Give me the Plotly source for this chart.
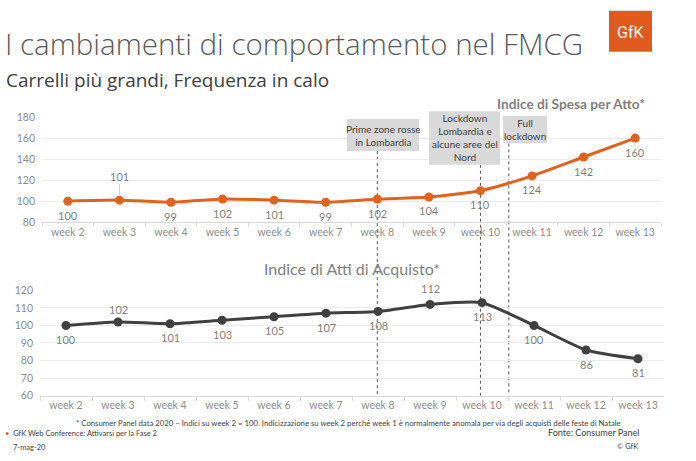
import plotly.graph_objects as go

W, H = 696, 461

weeks = ["week 2", "week 3", "week 4", "week 5", "week 6", "week 7",
         "week 8", "week 9", "week 10", "week 11", "week 12", "week 13"]
spesa = [100, 101, 99, 102, 101, 99, 102, 104, 110, 124, 142, 160]
atti = [100, 102, 101, 103, 105, 107, 108, 112, 113, 100, 86, 81]
spesa_label_side = ["below", "leader", "below", "below", "below", "below",
                    "below", "below", "below", "below", "below", "below"]
atti_label_side = ["below", "above", "below", "below", "below", "below",
                   "below", "leader", "below", "below", "below", "below"]
top_ticks = [80, 100, 120, 140, 160, 180]
bottom_ticks = [60, 70, 80, 90, 100, 110, 120]

title_text = "I cambiamenti di comportamento nel FMCG"
subtitle_text = "Carrelli più grandi, Frequenza in calo"
top_series_name = "Indice di Spesa per Atto*"
bottom_series_name = "Indice di Atti di Acquisto*"
events = [
    ("Prime zone rosse<br>in Lombardia", 6.0),
    ("Lockdown<br>Lombardia e<br>alcune aree del<br>Nord", 8.0),
    ("Full<br>lockdown", 8.55),
]
footnote = ("* Consumer Panel data 2020 – Indici su week 2 = 100. Indicizzazione su week 2 "
            "perché week 1 è normalmente anomala per via degli acquisti delle feste di Natale")

ORANGE = "#e0621f"
DARK = "#404040"
GRAY = "#7f7f7f"
TICK = "#8c8c8c"
GRID = "#ebebeb"


def px(x):
    return x / W


def py(y):
    return 1 - y / H


fig = go.Figure()
fig.add_trace(go.Scatter(x=weeks, y=spesa, mode="lines+markers",
                         line=dict(color=ORANGE, width=3, shape="spline", smoothing=0.6),
                         marker=dict(color=ORANGE, size=9),
                         xaxis="x", yaxis="y", showlegend=False, hoverinfo="skip"))
fig.add_trace(go.Scatter(x=weeks, y=atti, mode="lines+markers",
                         line=dict(color=DARK, width=3, shape="spline", smoothing=0.6),
                         marker=dict(color=DARK, size=9),
                         xaxis="x2", yaxis="y2", showlegend=False, hoverinfo="skip"))

annotations = []
lab_font = dict(family="Lato", size=11, color=GRAY)
for xs, ys, sides, xr, yr, lead in [(weeks, spesa, spesa_label_side, "x", "y", -24),
                                    (weeks, atti, atti_label_side, "x2", "y2", -16)]:
    for xv, yv, s in zip(xs, ys, sides):
        if s == "leader":
            annotations.append(dict(x=xv, y=yv, xref=xr, yref=yr, text=str(yv),
                                    showarrow=True, arrowhead=0, arrowwidth=0.8,
                                    arrowcolor="#bfbfbf", ax=0, ay=lead, standoff=5,
                                    font=lab_font))
        elif s == "above":
            annotations.append(dict(x=xv, y=yv, xref=xr, yref=yr, text=str(yv),
                                    showarrow=False, yshift=12, font=lab_font))
        else:
            annotations.append(dict(x=xv, y=yv, xref=xr, yref=yr, text=str(yv),
                                    showarrow=False, yshift=-14, font=lab_font))

shapes = []
boxes = [(347, 116, 419, 149), (429, 108, 500, 163), (503, 113, 547, 141)]
for (label, pos), (x0, y0, x1, y1) in zip(events, boxes):
    shapes.append(dict(type="rect", xref="paper", yref="paper",
                       x0=px(x0), x1=px(x1), y0=py(y1), y1=py(y0),
                       fillcolor="#d9d9d9", line=dict(width=0), layer="above"))
    annotations.append(dict(x=px((x0 + x1) / 2), y=py((y0 + y1) / 2), xref="paper", yref="paper",
                            text=label, showarrow=False, xanchor="center", yanchor="middle",
                            font=dict(family="Lato", size=10, color=DARK)))
    shapes.append(dict(type="line", xref="x", yref="paper", x0=pos, x1=pos,
                       y0=py(y1), y1=py(400), line=dict(color="#555555", width=1, dash="dot"),
                       layer="below"))

# logo
shapes.append(dict(type="rect", xref="paper", yref="paper", x0=px(609), x1=px(652),
                   y0=py(47), y1=py(5), fillcolor="#e05a1e", line=dict(width=0)))
annotations.append(dict(x=px(630), y=py(27), xref="paper", yref="paper", text="GfK",
                        showarrow=False, xanchor="center", yanchor="middle",
                        font=dict(family="Roboto", size=16, color="white")))

small = dict(family="Lato", size=7.5, color=DARK)
annotations += [
    dict(x=px(3), y=py(39), xref="paper", yref="paper", text=title_text, showarrow=False,
         xanchor="left", yanchor="middle",
         font=dict(family="Open Sans", size=29.5, color="#595959", weight=300)),
    dict(x=px(4), y=py(76), xref="paper", yref="paper", text=subtitle_text, showarrow=False,
         xanchor="left", yanchor="middle", font=dict(family="Open Sans", size=19, color=DARK)),
    dict(x=px(647), y=py(100), xref="paper", yref="paper", text="<b>" + top_series_name + "</b>",
         showarrow=False, xanchor="right", yanchor="middle",
         font=dict(family="Lato", size=13.7, color=GRAY)),
    dict(x=px(352), y=py(270), xref="paper", yref="paper", text=bottom_series_name,
         showarrow=False, xanchor="center", yanchor="middle",
         font=dict(family="Lato", size=16, color=GRAY)),
    dict(x=px(349), y=py(428), xref="paper", yref="paper", text=footnote, showarrow=False,
         xanchor="center", yanchor="middle", font=dict(family="Lato", size=7.75, color=DARK)),
    dict(x=px(3), y=py(439), xref="paper", yref="paper",
         text="<span style='color:#e05a1e'>•</span>  GfK Web Conference: Attivarsi per la Fase 2",
         showarrow=False, xanchor="left", yanchor="middle", font=small),
    dict(x=px(11), y=py(453), xref="paper", yref="paper", text="7-mag-20", showarrow=False,
         xanchor="left", yanchor="middle", font=small),
    dict(x=px(641), y=py(438), xref="paper", yref="paper", text="Fonte: Consumer Panel",
         showarrow=False, xanchor="right", yanchor="middle",
         font=dict(family="Lato", size=9, color=DARK)),
    dict(x=px(640), y=py(452), xref="paper", yref="paper", text="© GfK",
         showarrow=False, xanchor="right", yanchor="middle", font=small),
]

xcommon = dict(type="category", showgrid=False, showline=True, linecolor="#d9d9d9",
               ticks="outside", tickson="boundaries", ticklen=4, tickcolor="#d9d9d9",
               tickfont=dict(family="Lato", size=10.5, color=TICK), fixedrange=True,
               range=[-0.5, 11.5])
ycommon = dict(showgrid=True, gridcolor=GRID, zeroline=False, showline=False,
               tickfont=dict(family="Lato", size=10.5, color=TICK), ticklabelstandoff=6,
               fixedrange=True)

fig.update_layout(
    width=W, height=H, margin=dict(l=0, r=0, t=0, b=0),
    paper_bgcolor="white", plot_bgcolor="white",
    xaxis=dict(domain=[px(42), px(661)], anchor="y", **xcommon),
    yaxis=dict(domain=[py(222), py(114)], range=[80, 180], tickvals=top_ticks, anchor="x", **ycommon),
    xaxis2=dict(domain=[px(40), px(664)], anchor="y2", **xcommon),
    yaxis2=dict(domain=[py(400), py(292)], range=[60, 120], tickvals=bottom_ticks, anchor="x2", **ycommon),
    annotations=annotations, shapes=shapes,
)

fig.write_html("out.html", config={"displayModeBar": False},
               post_script="document.body.style.margin='0';document.body.style.overflow='hidden';")
